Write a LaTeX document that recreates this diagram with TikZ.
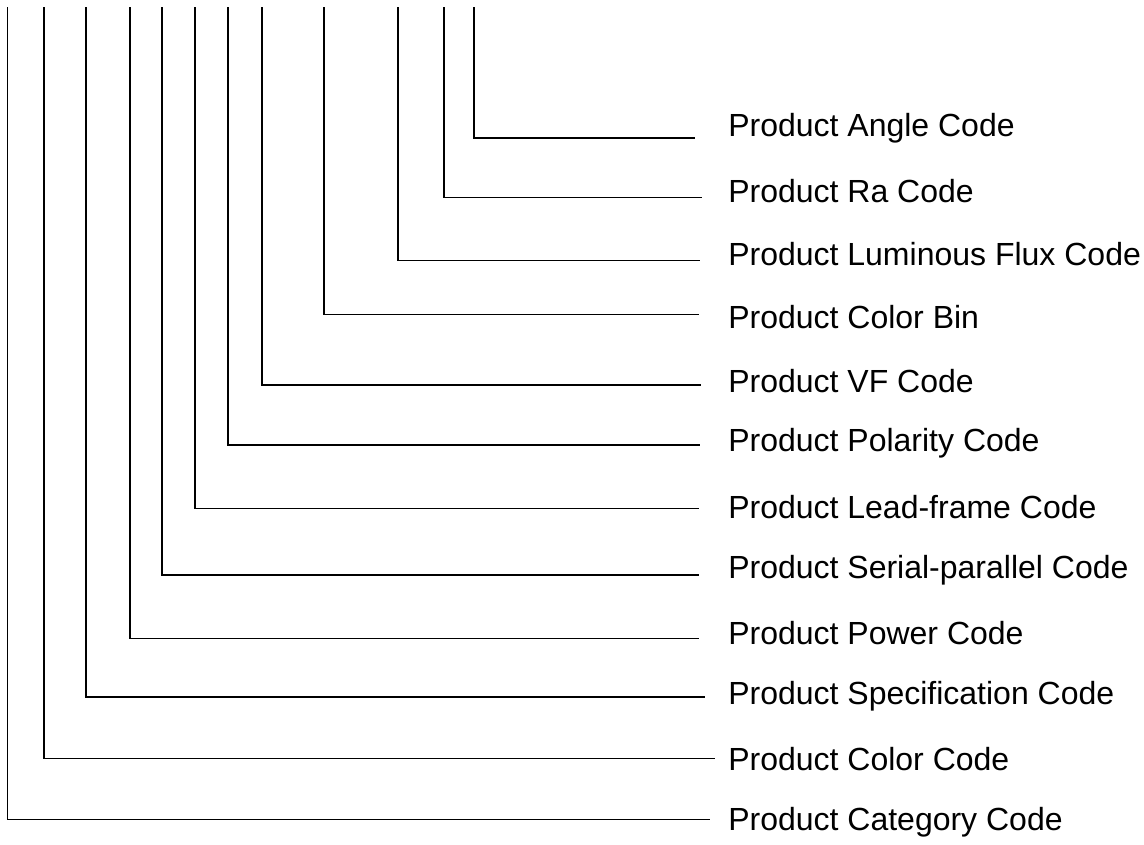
\documentclass[tikz,border=0pt]{standalone}
\usepackage{fontspec}
\setmainfont{Liberation Sans}
\usepackage{tikz}
\usetikzlibrary{positioning}

\tikzset{
  codeline/.style={line width=1.1pt, black},
  codelabel/.style={anchor=west, inner sep=0pt, font=\fontsize{24}{28}\selectfont}
}

\begin{document}
\begin{tikzpicture}[x=0.75pt,y=-0.75pt]

      \useasboundingbox (0,0) rectangle (1144,844);

      \def\topY{7}
      \def\textX{728}
      \def\textTop{128}
      \def\textStep{63.14}

      % x of the riser / y of the branch / x where the branch stops / label
      \def\codes{
        474/138.3/695/{Product Angle Code},
        444/197.3/702/{Product Ra Code},
        398/260.7/700/{Product Luminous Flux Code},
        324/314.3/699/{Product Color Bin},
        262/385/701/{Product VF Code},
        228/445/700/{Product Polarity Code},
        195/508.3/699/{Product Lead-frame Code},
        162/575/699/{Product Serial-parallel Code},
        130/638.3/699/{Product Power Code},
        86/697/705/{Product Specification Code},
        44/758.3/715/{Product Color Code},
        7.3/819.3/710/{Product Category Code}
      }

      % draw the branches and their labels
      \foreach \xr/\yb/\xe/\name [count=\ni] in \codes
      {
        \pgfmathsetmacro\ty{\textTop+(\ni-1)*\textStep}
        \coordinate (top\ni) at (\xr,\topY);
        \coordinate (end\ni) at (\xe,\yb);
        \node[codelabel] (lbl\ni) at (\textX,\ty) {\name};
        \ifnum\ni=1
          \draw [codeline, line width=1.6pt] (top\ni) |- (end\ni);
        \else
          \draw [codeline] (top\ni) |- (end\ni);
        \fi
      }

    \end{tikzpicture}
\end{document}
